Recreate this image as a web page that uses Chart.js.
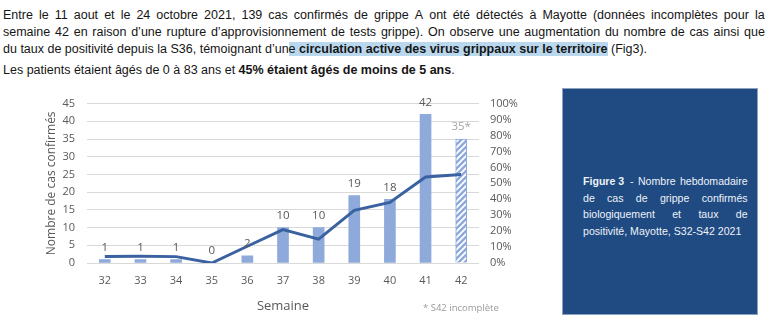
<!DOCTYPE html>
<html lang="fr">
<head>
<meta charset="utf-8">
<script src="https://cdn.jsdelivr.net/npm/chart.js@4.4.1/dist/chart.umd.min.js"></script>
<style>
  html, body { margin: 0; padding: 0; background: #fff; }
  body { width: 768px; height: 328px; position: relative; overflow: hidden; }
  .line {
    position: absolute; left: 3px;
    font-family: "Liberation Sans", Arial, sans-serif; font-size: 12.5px; line-height: 17px;
    color: #151515; white-space: nowrap;
  }
  .just { width: 762px; display: flex; justify-content: space-between; }
  .hl { background: #b9d8ee; }
  #box {
    position: absolute; left: 562px; top: 88px; width: 196px; height: 227px;
    background: #1f4a82; box-sizing: border-box; border: 1px solid #8ea3bf;
  }
  .cap {
    position: absolute; left: 20px; width: 177px;
    font-family: "Liberation Sans", Arial, sans-serif; font-size: 11.4px; line-height: 16.5px;
    color: #eef2f8; white-space: nowrap;
    transform-origin: left top; transform: scaleX(0.93);
  }
  .cap.just { display: flex; justify-content: space-between; }
  #wrap { position: absolute; left: 0; top: 85px; width: 560px; height: 240px; }
  #note {
    position: absolute; left: 423px; top: 301px;
    font-family: "Open Sans", sans-serif; font-size: 9.5px; color: #9a9a9a; white-space: nowrap;
  }
</style>
</head>
<body>

<div class="line just" style="top:7px">Entre le 11 aout et le 24 octobre 2021, 139 cas confirmés de grippe A ont été détectés à Mayotte (données incomplètes pour la</div>
<div class="line just" style="top:24px">semaine 42 en raison d’une rupture d’approvisionnement de tests grippe). On observe une augmentation du nombre de cas ainsi que</div>
<div class="line" style="top:41px">du taux de positivité depuis la S36, témoignant d’un<span class="hl">e <b>circulation active des virus grippaux sur le territoire</b></span> (Fig3).</div>
<div class="line" style="top:62px">Les patients étaient âgés de 0 à 83 ans et <b>45% étaient âgés de moins de 5 ans</b>.</div>

<div id="wrap"><canvas id="chart" width="560" height="240"></canvas></div>
<div id="note">* S42 incomplète</div>

<div id="box">
  <div class="cap just" style="top:84px"><span><b>Figure 3</b>&nbsp; -</span><span>Nombre</span><span>hebdomadaire</span></div>
  <div class="cap just" style="top:100.5px"><span>de</span><span>cas</span><span>de</span><span>grippe</span><span>confirmés</span></div>
  <div class="cap just" style="top:117px"><span>biologiquement</span><span>et</span><span>taux</span><span>de</span></div>
  <div class="cap" style="top:133.5px">positivité, Mayotte, S32-S42 2021</div>
</div>

<script>
// lignes justifiées du paragraphe : un span par mot
document.querySelectorAll('.line.just').forEach(el => {
    const words = el.textContent.trim().split(/\s+/);
    el.textContent = '';
    words.forEach(w => {
        const s = document.createElement('span');
        s.textContent = w;
        el.appendChild(s);
    });
});

// semaines S32 -> S42 2021
const weeks = ['32', '33', '34', '35', '36', '37', '38', '39', '40', '41', '42'];
const cases = [1, 1, 1, 0, 2, 10, 10, 19, 18, 42, 35];
const caseLabels = ['1', '1', '1', '0', '2', '10', '10', '19', '18', '42', '35*'];
const incomplete = [false, false, false, false, false, false, false, false, false, false, true];
// taux de positivité (%)
const positivity = [4, 4.2, 4, 0, 10.5, 21, 15, 33, 38, 54, 55.5];

const barBlue = '#8eaadb';
const lineBlue = '#3a62a0';
const grey = '#595959';

// hachures pour la S42 incomplète
function makeHatch() {
    const c = document.createElement('canvas');
    c.width = 6;
    c.height = 6;
    const g = c.getContext('2d');
    g.fillStyle = '#fff';
    g.fillRect(0, 0, 6, 6);
    g.strokeStyle = barBlue;
    g.lineWidth = 2.4;
    g.beginPath();
    g.moveTo(-1, 7); g.lineTo(7, -1);
    g.moveTo(-4, 4); g.lineTo(4, -4);
    g.moveTo(2, 10); g.lineTo(10, 2);
    g.stroke();
    return g.createPattern(c, 'repeat');
}
const hatch = makeHatch();

// étiquettes au-dessus des barres
const barLabels = {
    id: 'barLabels',
    afterDatasetsDraw(chart) {
        const ctx = chart.ctx;
        const meta = chart.getDatasetMeta(1);
        ctx.save();
        ctx.font = '11.5px "Open Sans", sans-serif';
        ctx.textAlign = 'center';
        ctx.textBaseline = 'middle';
        meta.data.forEach((el, i) => {
            ctx.fillStyle = incomplete[i] ? '#a6a6a6' : grey;
            ctx.fillText(caseLabels[i], el.x, el.y - 12);
        });
        ctx.restore();
    }
};

const tickFont = { family: 'Open Sans', size: 11 };

new Chart(document.getElementById('chart').getContext('2d'), {
    data: {
        labels: weeks,
        datasets: [
            {
                type: 'line',
                label: 'Taux de positivité',
                data: positivity,
                yAxisID: 'y1',
                borderColor: lineBlue,
                borderWidth: 3,
                pointRadius: 0,
                tension: 0,
                order: 0
            },
            {
                type: 'bar',
                label: 'Nombre de cas confirmés',
                data: cases,
                yAxisID: 'y',
                backgroundColor: cases.map((v, i) => incomplete[i] ? hatch : barBlue),
                borderColor: barBlue,
                borderWidth: cases.map((v, i) => incomplete[i] ? 1 : 0),
                barThickness: 11,
                order: 1
            }
        ]
    },
    options: {
        responsive: false,
        devicePixelRatio: 1,
        animation: false,
        layout: { padding: { top: 18, left: 0, right: 0, bottom: 0 } },
        plugins: {
            legend: { display: false },
            tooltip: { enabled: false }
        },
        scales: {
            x: {
                grid: { display: false },
                border: { display: false },
                ticks: { color: grey, font: tickFont, padding: 3 },
                title: {
                    display: true,
                    text: 'Semaine',
                    color: grey,
                    font: { family: 'Open Sans', size: 13 },
                    padding: { top: 0, bottom: 11 }
                },
                afterFit: (scale) => { scale.height = 62; }
            },
            y: {
                position: 'left',
                min: 0,
                max: 45,
                ticks: { stepSize: 5, color: grey, font: tickFont, padding: 12 },
                grid: { color: '#d9d9d9', drawTicks: false },
                border: { display: false },
                title: {
                    display: true,
                    text: 'Nombre de cas confirmés',
                    color: grey,
                    font: { family: 'Open Sans', size: 12 },
                    padding: { top: 44, bottom: 0 }
                },
                afterFit: (scale) => { scale.width = 87; }
            },
            y1: {
                position: 'right',
                min: 0,
                max: 100,
                ticks: {
                    stepSize: 10,
                    autoSkip: false,
                    color: grey,
                    font: tickFont,
                    padding: 11,
                    callback: (v) => v + '%'
                },
                grid: { display: false, drawTicks: false },
                border: { display: false },
                afterFit: (scale) => { scale.width = 81; }
            }
        }
    },
    plugins: [barLabels]
});
</script>
</body>
</html>
